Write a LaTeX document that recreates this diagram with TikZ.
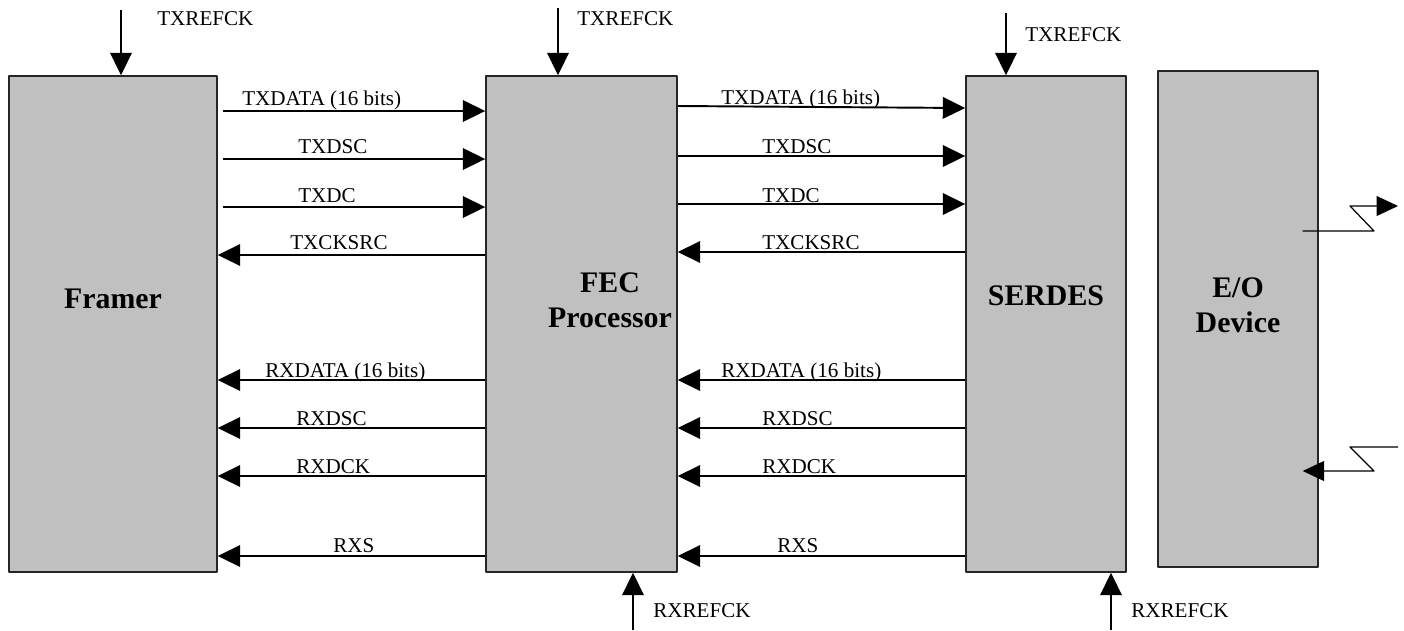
\documentclass[tikz,border=0pt]{standalone}
\usepackage{fontspec}
\setmainfont{Liberation Serif}
\usetikzlibrary{arrows.meta,calc,fit}
\definecolor{silver}{HTML}{C0C0C0}
\begin{document}
\begin{tikzpicture}[x=0.02cm,y=-0.02cm,line join=round,
	blk/.style={draw=black!85,line width=0.8pt,fill=silver,inner sep=0pt},
	ttl/.style={font=\fontsize{17}{20}\selectfont\bfseries,align=center,inner sep=0pt},
	lbl/.style={font=\fontsize{12}{14}\selectfont,anchor=base west,inner sep=0pt},
	sig/.style={line width=1.1pt,-{Triangle[length=0.45cm,width=0.43cm]}},
	zz/.style={line width=0.7pt,-{Triangle[length=0.43cm,width=0.4cm]}}]
	\useasboundingbox (0,0) rectangle (1404,630);
	\node[blk,fit={(9,76) (217,572)}] (framer) {};
	\node[blk,fit={(486,76) (677,572)}] (fec) {};
	\node[blk,fit={(966,76) (1126,572)}] (serdes) {};
	\node[blk,fit={(1158,71) (1318,567)}] (eo) {};
	\node[ttl,anchor=base] (framertxt) at (framer.center |- 0,308) {Framer};
	\node[ttl] (fectxt) at (610,300) {FEC\\Processor};
	\node[ttl,anchor=base] (serdestxt) at (serdes.center |- 0,305) {SERDES};
	\node[ttl] (eotxt) at (eo.center |- 0,305) {E/O\\Device};
	\foreach \y/\ly/\lx/\txt in {111/105/242/{TXDATA (16 bits)},159/153/298/TXDSC,207/202/298/TXDC}{
		\draw[sig] ($(framer.east |- 0,\y)+(5,0)$) -- (fec.west |- 0,\y);
		\node[lbl] (la\y) at (\lx,\ly) {\txt};
	}
	\foreach \y/\ly/\lx/\txt in {255/249/290/TXCKSRC,380/377/265/{RXDATA (16 bits)},428/425/296/RXDSC,476/473/296/RXDCK,556/552/333/RXS}{
		\draw[sig] (fec.west |- 0,\y) -- (framer.east |- 0,\y);
		\node[lbl] (la\y) at (\lx,\ly) {\txt};
	}
	\foreach \ya/\yb/\ly/\lx/\txt in {106/108/104/721/{TXDATA (16 bits)},156/156/153/762/TXDSC,204/204/202/762/TXDC}{
		\draw[sig] (fec.east |- 0,\ya) -- (serdes.west |- 0,\yb);
		\node[lbl] (lb\ya) at (\lx,\ly) {\txt};
	}
	\foreach \y/\ly/\lx/\txt in {252/249/762/TXCKSRC,380/377/721/{RXDATA (16 bits)},428/425/762/RXDSC,476/473/762/RXDCK,556/552/777/RXS}{
		\draw[sig] (serdes.west |- 0,\y) -- (fec.east |- 0,\y);
		\node[lbl] (lb\y) at (\lx,\ly) {\txt};
	}
	\foreach \x/\ya/\n/\lx/\ly in {121/10/framer/157/25,558/8/fec/577/25,1006/13/serdes/1025/41}{
		\coordinate (tx\n) at (\x,\ya);
		\draw[sig] (tx\n) -- (\n.north -| tx\n);
		\node[lbl] (txl\n) at (\lx,\ly) {TXREFCK};
	}
	\foreach \x/\n in {633/fec,1111/serdes}{
		\coordinate (rx\n) at (\x,630);
		\draw[sig] (rx\n) -- (\n.south -| rx\n);
		\node[lbl] (rxl\n) at ({\x+20},617) {RXREFCK};
	}
	\coordinate (zout) at (1398,206);
	\coordinate (zin) at (1398,447);
	\draw[zz] ($(eo.east |- 0,231)+(-16,0)$) -- (1374,231) -- (1350,206) -- (zout);
	\draw[zz] (zin) -- (1350,447) -- (1374,471) -- ($(eo.east |- 0,471)+(-16,0)$);
\end{tikzpicture}
\end{document}
